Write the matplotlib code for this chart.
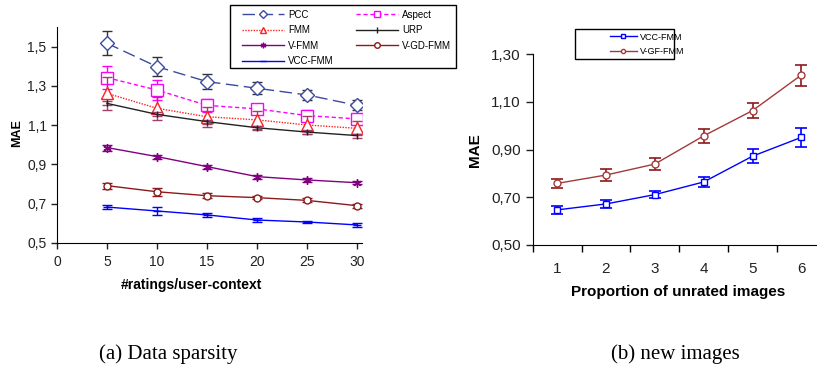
import numpy as np
import matplotlib.pyplot as plt
from matplotlib.lines import Line2D
from matplotlib.patches import Rectangle
from matplotlib.ticker import FuncFormatter, FixedLocator

plt.rcParams['font.family'] = ['Liberation Sans', 'DejaVu Sans']

# (a) data sparsity
ratings = [5, 10, 15, 20, 25, 30]
pcc = [1.517, 1.398, 1.322, 1.288, 1.254, 1.201]
pcc_err = [0.061, 0.050, 0.040, 0.030, 0.027, 0.025]
aspect = [1.342, 1.279, 1.201, 1.183, 1.149, 1.132]
aspect_err = [0.060, 0.050, 0.034, 0.020, 0.030, 0.020]
fmm = [1.262, 1.186, 1.143, 1.127, 1.101, 1.084]
fmm_err = [0.085, 0.060, 0.050, 0.045, 0.045, 0.035]
urp = [1.211, 1.155, 1.118, 1.087, 1.065, 1.047]
urp_err = [0.010, 0.010, 0.010, 0.010, 0.010, 0.010]
vfmm = [0.986, 0.940, 0.889, 0.838, 0.821, 0.807]
vfmm_err = [0.015, 0.010, 0.010, 0.010, 0.010, 0.008]
vgd = [0.792, 0.761, 0.741, 0.731, 0.717, 0.690]
vgd_err = [0.015, 0.020, 0.012, 0.008, 0.010, 0.010]
vcc = [0.683, 0.663, 0.643, 0.617, 0.607, 0.592]
vcc_err = [0.012, 0.020, 0.010, 0.008, 0.006, 0.008]

# (b) new images
proportion = [1, 2, 3, 4, 5, 6]
vcc_b = [0.647, 0.672, 0.711, 0.764, 0.872, 0.951]
vcc_b_err = [0.016, 0.017, 0.016, 0.019, 0.030, 0.040]
vgf_b = [0.758, 0.793, 0.839, 0.957, 1.063, 1.212]
vgf_b_err = [0.020, 0.024, 0.024, 0.028, 0.031, 0.044]

W, H = 817, 370
fig = plt.figure(figsize=(W / 100, H / 100), dpi=100)


def box(x0, y0, x1, y1):
    # pixel box (top-left origin) -> figure fraction
    return [x0 / W, 1 - y1 / H, (x1 - x0) / W, (y1 - y0) / H]


comma = lambda fmt: FuncFormatter(lambda v, p: (fmt % v).replace('.', ','))

# ---------- left ----------
ax1 = fig.add_axes(box(57, 27, 362, 243))
series = [
    ('PCC', pcc, pcc_err, '#3c4aa0', (0, (9, 4)), 'D', 7, '#333333'),
    ('Aspect', aspect, aspect_err, '#ff00ff', (0, (3, 2)), 's', 8, '#ff00ff'),
    ('FMM', fmm, fmm_err, '#ff2020', (0, (1, 1)), '^', 8, '#a0406a'),
    ('URP', urp, urp_err, '#222222', '-', '|', 4, '#a0406a'),
    ('V-FMM', vfmm, vfmm_err, '#800080', '-', (6, 2, 0), 6, '#800080'),
    ('V-GD-FMM', vgd, vgd_err, '#8b1a1a', '-', 'o', 5, '#8b1a1a'),
    ('VCC-FMM', vcc, vcc_err, '#0000ff', '-', '_', 6, '#0000ff'),
]
handles = {}
for name, vals, err, col, ls, mk, ms, ecol in series:
    ax1.errorbar(ratings, vals, yerr=err, fmt='none', ecolor=ecol,
                 elinewidth=1, capsize=3.5, capthick=1)
    ax1.plot(ratings, vals, color=col, linestyle=ls, linewidth=1,
             marker=mk, markersize=ms, markerfacecolor='white',
             markeredgecolor=col, markeredgewidth=1)
    handles[name] = Line2D([], [], color=col, linestyle=ls, linewidth=1,
                           marker=mk, markersize=4, markerfacecolor='white',
                           markeredgecolor=col)

ax1.set_xlim(0, 30.5)
ax1.set_ylim(0.5, 1.6)
ax1.set_xticks([0, 5, 10, 15, 20, 25, 30])
ax1.yaxis.set_major_locator(FixedLocator([0.5, 0.7, 0.9, 1.1, 1.3, 1.5]))
ax1.yaxis.set_major_formatter(comma('%.1f'))
for s in ['top', 'right']:
    ax1.spines[s].set_visible(False)
ax1.tick_params(labelsize=10, length=4, width=1, colors='#222222')
ax1.tick_params(axis='x', pad=5)

order = ['PCC', 'FMM', 'V-FMM', 'VCC-FMM', 'Aspect', 'URP', 'V-GD-FMM']
fig.legend([handles[k] for k in order], order, ncol=2, frameon=False,
           loc='upper left', bbox_to_anchor=(238 / W, 1 - 6 / H),
           fontsize=7, handlelength=4.3, handletextpad=0.45,
           columnspacing=2.3, labelspacing=0.55, borderaxespad=0)
fig.patches.append(Rectangle((230 / W, 1 - 68 / H), 226 / W, 63 / H,
                             transform=fig.transFigure, fill=False,
                             edgecolor='black', linewidth=1))

fig.text(17 / W, 1 - 133 / H, 'MAE', rotation=90, fontsize=9,
         fontweight='bold', ha='center', va='center')
fig.text(191 / W, 1 - 285 / H, '#ratings/user-context', fontsize=10,
         fontweight='bold', ha='center', va='center')

# ---------- right ----------
ax2 = fig.add_axes(box(532.7, 54, 825.8, 245))
ax2.errorbar(proportion, vcc_b, yerr=vcc_b_err, color='#0000ff', linewidth=1,
             marker='s', markersize=4, markerfacecolor='white',
             markeredgecolor='#0000ff', elinewidth=1.2, capsize=4, capthick=1.2)
ax2.errorbar(proportion, vgf_b, yerr=vgf_b_err, color='#a33a3a', linewidth=1,
             marker='o', markersize=5, markerfacecolor='white',
             markeredgecolor='#a33a3a', ecolor='#8b1a1a', elinewidth=1.2,
             capsize=4, capthick=1.2)
ax2.set_xlim(0.5, 6.5)
ax2.set_ylim(0.5, 1.3)
ax2.set_xticks(proportion)
ax2.set_xticks([0.5, 1.5, 2.5, 3.5, 4.5, 5.5], minor=True)
ax2.tick_params(axis='x', which='major', length=0, pad=12)
ax2.tick_params(axis='x', which='minor', length=5, width=1)
ax2.set_yticks([0.5, 0.7, 0.9, 1.1, 1.3])
ax2.yaxis.set_major_formatter(comma('%.2f'))
ax2.tick_params(labelsize=11, colors='#222222')
ax2.tick_params(axis='y', length=5, width=1)
for s in ['top', 'right']:
    ax2.spines[s].set_visible(False)

h_b = [Line2D([], [], color='#0000ff', linewidth=1, marker='s', markersize=3,
              markerfacecolor='white'),
       Line2D([], [], color='#a33a3a', linewidth=1, marker='o', markersize=3,
              markerfacecolor='white')]
fig.legend(h_b, ['VCC-FMM', 'V-GF-FMM'], frameon=False, loc='upper left',
           bbox_to_anchor=(606 / W, 1 - 29 / H), fontsize=6.5,
           handlelength=3, handletextpad=0.4, labelspacing=0.6,
           borderaxespad=0)
fig.patches.append(Rectangle((575 / W, 1 - 59 / H), 99 / W, 30 / H,
                             transform=fig.transFigure, fill=False,
                             edgecolor='black', linewidth=1))

fig.text(475 / W, 1 - 150 / H, 'MAE', rotation=90, fontsize=11,
         fontweight='bold', ha='center', va='center')
fig.text(678 / W, 1 - 292 / H, 'Proportion of unrated images', fontsize=11,
         fontweight='bold', ha='center', va='center')

# captions
fig.text(168 / W, 1 - 354 / H, '(a) Data sparsity', fontsize=15,
         family='Liberation Serif', ha='center', va='center')
fig.text(675 / W, 1 - 354 / H, '(b) new images', fontsize=15,
         family='Liberation Serif', ha='center', va='center')

fig.savefig('out.png', dpi=100)
